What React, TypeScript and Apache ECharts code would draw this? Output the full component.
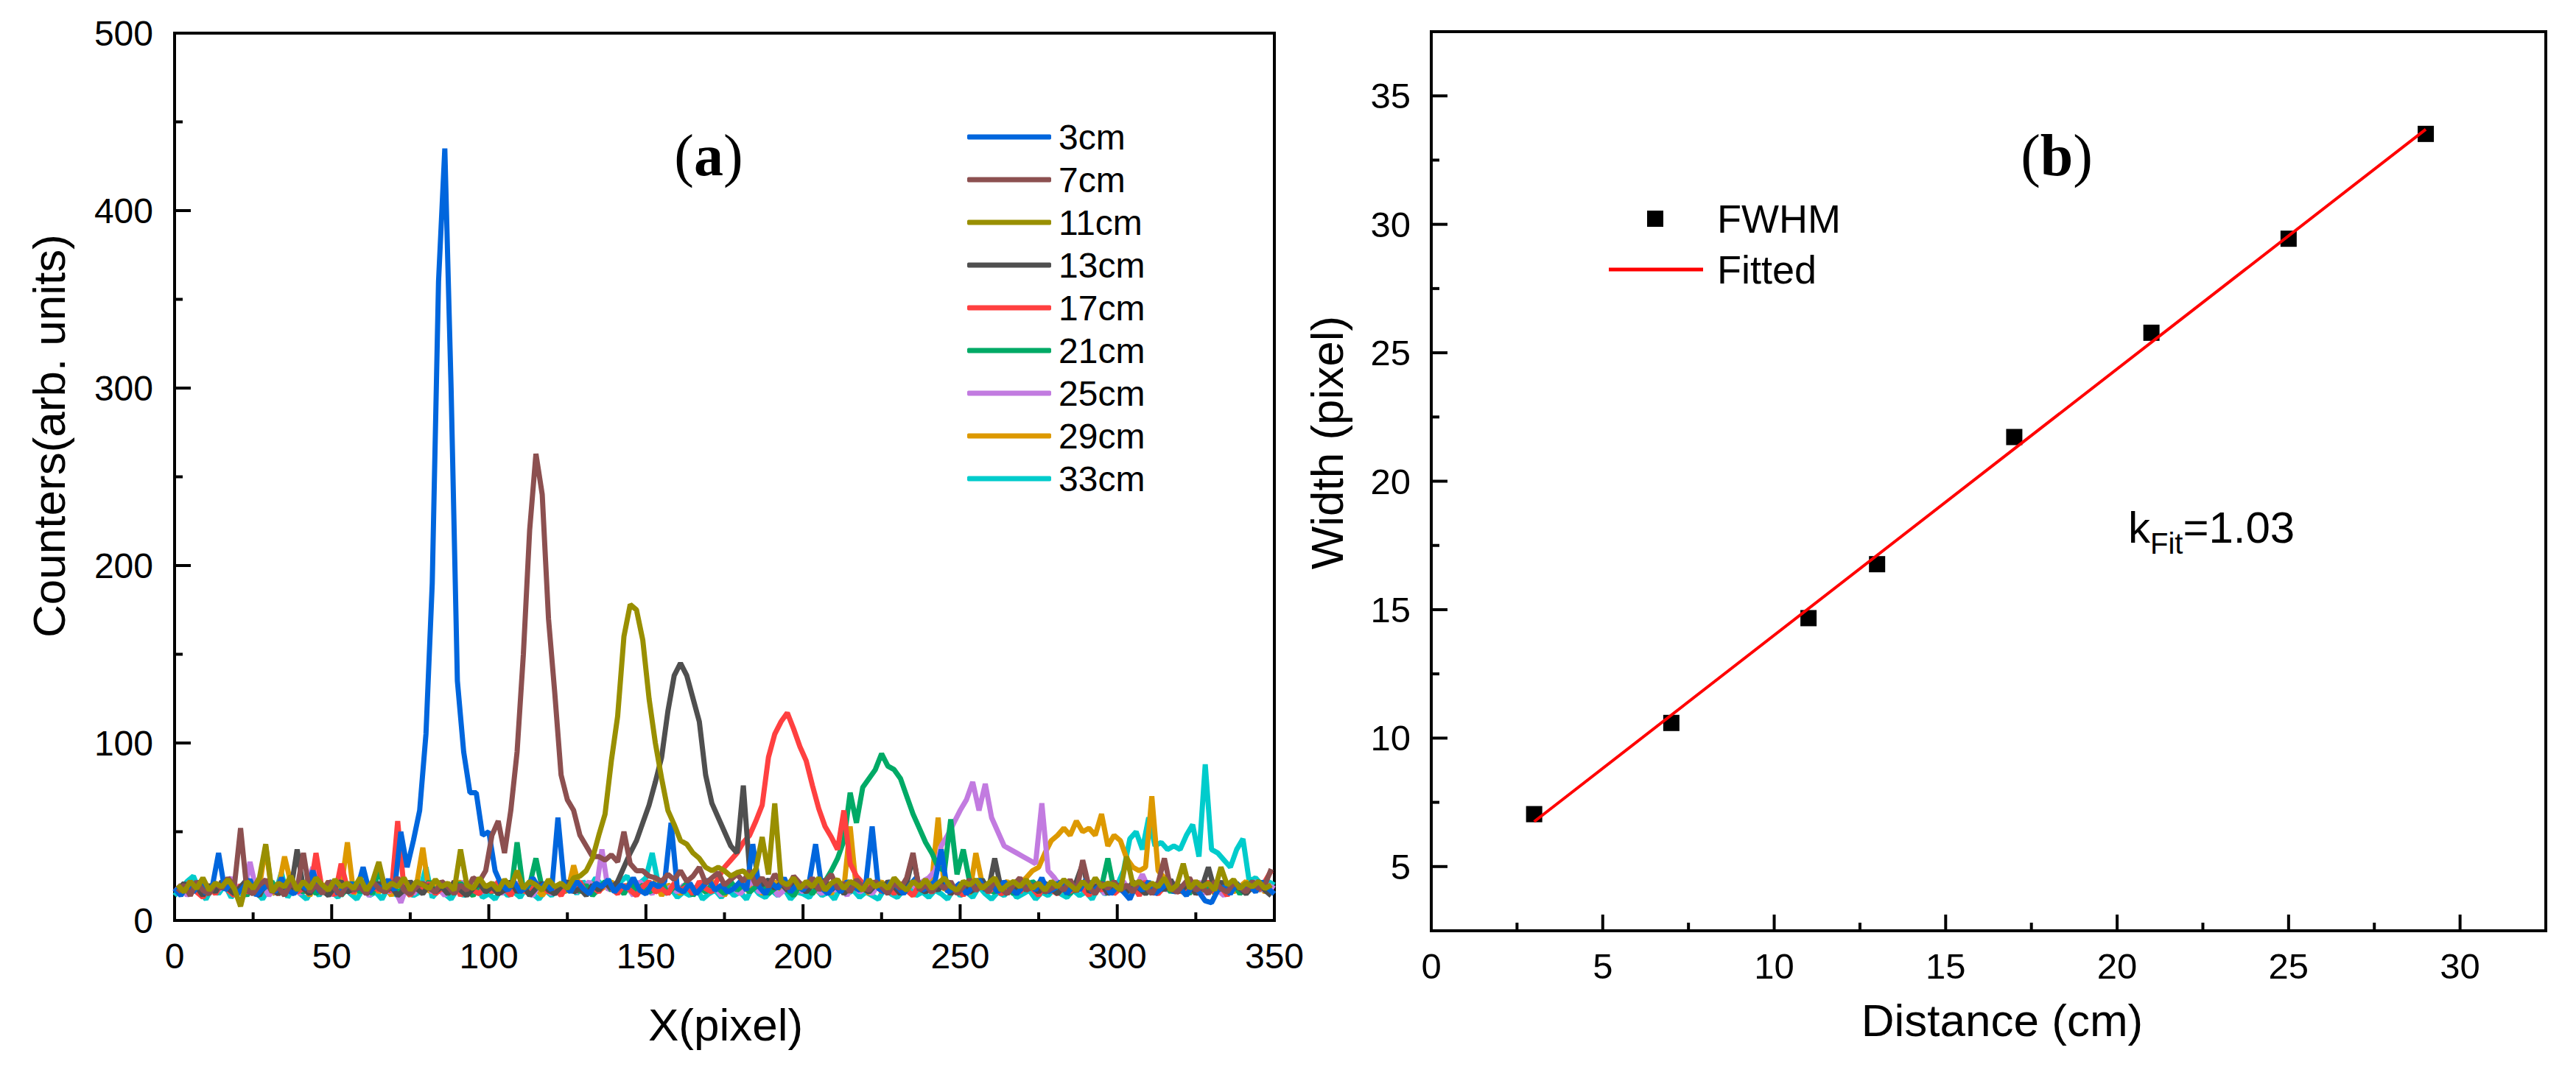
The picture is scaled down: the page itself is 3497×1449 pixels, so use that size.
import { useEffect, useRef } from 'react';
import * as echarts from 'echarts';

// ---------- panel (a): counts along the pixel row, one value every 2 px ----------
const X_STEP = 2;

// x = 0, 2, 4, ..., 350
const counts3cm = [
  18, 14, 20, 16, 22, 15, 19, 38, 17, 21,
  15, 19, 23, 14, 18, 20, 16, 24, 17, 15,
  20, 18, 28, 16, 19, 22, 15, 18, 21, 17,
  30, 16, 20, 18, 23, 17, 50, 30, 45, 62,
  105, 190, 360, 435, 300, 135, 95, 72, 72, 48,
  50, 28, 20, 17, 22, 16, 19, 24, 18, 21,
  17, 58, 20, 16, 22, 18, 15, 21, 19, 23,
  16, 20, 18, 24, 17, 15, 21, 19, 22, 55,
  18, 16, 21, 15, 19, 23, 17, 20, 16, 18,
  22, 17, 43, 19, 15, 21, 18, 24, 16, 20,
  17, 22, 43, 18, 15, 20, 16, 22, 19, 17,
  21, 53, 18, 16, 22, 19, 15, 20, 24, 17,
  19, 22, 40, 16, 18, 21, 15, 19, 23, 17,
  20, 16, 22, 18, 15, 19, 21, 17, 24, 16,
  18, 22, 15, 20, 17, 23, 16, 19, 21, 15,
  19, 16, 12, 20, 17, 22, 15, 18, 21, 16,
  18, 14, 20, 16, 11, 10, 17, 19, 15, 21,
  17, 20, 16, 22, 18, 15,
];

// x = 1, 3, 5, ..., 349
const counts7cm = [
  16, 20, 14, 22, 17, 15, 21, 18, 24, 19,
  52, 17, 15, 20, 23, 16, 19, 14, 21, 18,
  38, 16, 20, 15, 22, 18, 14, 21, 17, 19,
  15, 22, 18, 16, 20, 24, 17, 15, 19, 21,
  18, 16, 22, 19, 15, 20, 17, 24, 22, 28,
  48, 56, 38, 62, 95, 150, 220, 263, 240, 170,
  128, 82, 68, 62, 48, 42, 36, 36, 34, 37,
  33, 50, 32, 28, 28, 25, 24, 22, 26, 23,
  28, 22, 25, 30, 21, 24, 27, 20, 23, 26,
  22, 28, 20, 24, 19, 26, 22, 18, 25, 21,
  19, 24, 17, 22, 26, 18, 21, 16, 23, 19,
  17, 22, 19, 15, 21, 18, 24, 38, 17, 20,
  16, 21, 18, 22, 15, 19, 23, 17, 20, 16,
  22, 18, 15, 20, 24, 17, 19, 21, 16, 18,
  20, 17, 23, 16, 34, 19, 15, 21, 18, 22,
  17, 20, 16, 22, 19, 15, 21, 35, 18, 16,
  20, 24, 17, 19, 15, 22, 18, 16, 21, 19,
  16, 22, 18, 20, 29,
];

// x = 1, 3, 5, ..., 349
const counts11cm = [
  20, 16, 22, 18, 24, 17, 21, 19, 23, 18,
  8, 22, 18, 24, 43, 16, 21, 19, 25, 17,
  22, 18, 24, 20, 17, 23, 19, 21, 18, 24,
  17, 22, 33, 18, 21, 19, 24, 17, 22, 20,
  18, 23, 19, 21, 17, 40, 20, 18, 24, 19,
  21, 17, 23, 19, 28, 18, 22, 20, 17, 23,
  19, 21, 18, 24, 25, 28, 35, 48, 60, 90,
  115, 160, 178, 175, 158, 125, 100, 80, 62, 54,
  45, 43, 38, 35, 30, 28, 30, 28, 25, 27,
  28, 24, 29, 47, 26, 66, 22, 20, 24, 18,
  22, 19, 24, 17, 21, 23, 18, 22, 20, 17,
  23, 19, 21, 18, 24, 20, 17, 22, 19, 23,
  18, 21, 24, 19, 17, 22, 20, 23, 18, 21,
  24, 17, 20, 22, 19, 23, 18, 21, 17, 22,
  19, 23, 20, 17, 22, 18, 24, 19, 21, 20,
  17, 36, 20, 22, 18, 21, 19, 24, 17, 20,
  32, 18, 22, 19, 21, 17, 30, 20, 23, 18,
  21, 19, 22, 18, 20,
];

// x = 1, 3, 5, ..., 349
const counts13cm = [
  17, 21, 15, 19, 14, 20, 16, 22, 18, 15,
  19, 23, 16, 14, 21, 18, 15, 20, 17, 40,
  18, 15, 21, 17, 14, 19, 22, 16, 18, 20,
  15, 18, 21, 16, 19, 14, 17, 22, 18, 15,
  20, 16, 19, 15, 22, 17, 14, 18, 21, 16,
  19, 15, 17, 22, 16, 20, 14, 18, 21, 17,
  15, 19, 22, 16, 18, 14, 20, 17, 21, 18,
  22, 30, 38, 45, 55, 65, 78, 92, 118, 138,
  145, 138, 125, 112, 82, 66, 58, 50, 42, 38,
  76, 28, 24, 20, 23, 18, 21, 17, 22, 19,
  16, 20, 18, 23, 17, 21, 15, 19, 22, 18,
  16, 20, 17, 22, 19, 15, 21, 36, 18, 16,
  20, 17, 22, 15, 19, 21, 16, 18, 23, 17,
  35, 18, 15, 20, 17, 22, 19, 16, 21, 18,
  15, 20, 17, 22, 32, 16, 19, 21, 15, 18,
  20, 16, 22, 18, 15, 19, 21, 17, 23, 16,
  18, 21, 15, 19, 30, 17, 22, 16, 20, 18,
  15, 19, 22, 17, 14,
];

// x = 1, 3, 5, ..., 349
const counts17cm = [
  14, 18, 22, 16, 13, 19, 15, 21, 17, 14,
  20, 16, 18, 14, 22, 17, 15, 19, 23, 16,
  18, 15, 38, 17, 20, 14, 32, 18, 16, 21,
  15, 19, 17, 22, 16, 56, 18, 14, 20, 17,
  21, 15, 18, 16, 22, 14, 19, 17, 15, 20,
  16, 22, 18, 14, 20, 17, 15, 21, 19, 16,
  18, 14, 20, 17, 22, 15, 19, 16, 21, 18,
  15, 20, 17, 14, 19, 22, 16, 18, 15, 21,
  17, 19, 15, 22, 18, 16, 24, 30, 34, 38,
  44, 48, 56, 65, 92, 105, 112, 117, 108, 98,
  90, 76, 63, 53, 47, 40, 62, 32, 25, 21,
  18, 22, 16, 19, 15, 21, 17, 14, 20, 18,
  16, 19, 22, 15, 18, 14, 21, 17, 20, 16,
  19, 15, 17, 22, 16, 20, 18, 14, 21, 17,
  15, 19, 16, 22, 18, 14, 20, 17, 21, 15,
  18, 16, 20, 14, 22, 17, 15, 19, 21, 16,
  17, 20, 15, 18, 22, 16, 19, 14, 21, 18,
  16, 20, 17, 22, 28,
];

// x = 1, 3, 5, ..., 349
const counts21cm = [
  15, 19, 17, 21, 14, 18, 16, 20, 22, 17,
  18, 14, 20, 16, 19, 22, 15, 17, 21, 18,
  16, 20, 15, 19, 17, 22, 14, 18, 21, 16,
  19, 15, 29, 17, 21, 16, 18, 14, 20, 17,
  22, 16, 19, 15, 18, 21, 17, 14, 20, 18,
  16, 19, 21, 15, 44, 17, 20, 35, 18, 22,
  15, 19, 17, 21, 16, 20, 14, 18, 22, 17,
  19, 15, 21, 17, 20, 16, 18, 22, 15, 19,
  17, 21, 14, 19, 16, 20, 18, 15, 22, 17,
  20, 16, 19, 22, 15, 18, 21, 17, 14, 20,
  18, 15, 20, 22, 28, 35, 45, 72, 55, 75,
  80, 85, 94, 87, 85, 80, 70, 60, 52, 44,
  38, 30, 28, 57, 26, 40, 22, 19, 23, 17,
  16, 21, 18, 15, 20, 17, 22, 19, 16, 18,
  21, 17, 15, 20, 18, 22, 16, 19, 35, 17,
  20, 16, 18, 22, 15, 19, 17, 21, 16, 20,
  18, 15, 22, 17, 19, 16, 20, 18, 21, 15,
  19, 22, 17, 20, 18,
];

// x = 0, 2, 4, ..., 350
const counts25cm = [
  16, 20, 14, 18, 22, 15, 19, 17, 21, 24,
  18, 15, 33, 17, 20, 14, 19, 22, 16, 18,
  15, 21, 30, 17, 19, 14, 22, 18, 16, 20,
  17, 14, 19, 22, 16, 18, 10, 20, 15, 19,
  21, 16, 18, 14, 20, 17, 22, 15, 19, 16,
  18, 21, 15, 19, 17, 22, 16, 14, 20, 18,
  15, 19, 17, 21, 16, 18, 22, 15, 40, 17,
  20, 16, 19, 14, 22, 18, 15, 21, 17, 19,
  16, 20, 18, 15, 22, 17, 19, 14, 21, 18,
  15, 19, 22, 16, 18, 20, 14, 17, 21, 19,
  16, 22, 18, 15, 20, 17, 19, 14, 21, 16,
  18, 15, 20, 17, 22, 16, 19, 21, 18, 22,
  24, 28, 42, 48, 55, 62, 68, 78, 62, 77,
  58, 50, 42, 40, 38, 36, 34, 32, 66, 28,
  24, 19, 22, 17, 20, 16, 18, 21, 15, 19,
  17, 22, 16, 19, 26, 18, 15, 20, 17, 21,
  19, 16, 18, 22, 15, 20, 17, 14, 19, 21,
  16, 19, 22, 17, 20, 18,
];

// x = 1, 3, 5, ..., 349
const counts29cm = [
  18, 15, 21, 17, 14, 20, 16, 19, 22, 15,
  17, 20, 16, 19, 42, 15, 18, 36, 21, 16,
  19, 14, 20, 17, 22, 16, 18, 44, 15, 20,
  17, 21, 16, 19, 14, 22, 18, 15, 20, 41,
  16, 19, 21, 15, 18, 22, 17, 14, 20, 16,
  19, 15, 21, 17, 20, 16, 22, 18, 14, 19,
  17, 20, 16, 31, 18, 15, 21, 17, 19, 22,
  16, 18, 21, 15, 19, 17, 22, 14, 20, 18,
  15, 21, 17, 19, 16, 22, 18, 14, 20, 17,
  19, 16, 21, 15, 18, 22, 17, 20, 14, 19,
  17, 21, 16, 19, 15, 22, 18, 53, 17, 20,
  15, 19, 22, 16, 18, 21, 17, 14, 20, 18,
  22, 58, 17, 20, 16, 19, 15, 38, 21, 18,
  16, 20, 22, 18, 21, 24, 28, 30, 38, 45,
  48, 52, 48, 56, 50, 52, 48, 60, 42, 48,
  45, 35, 30, 28, 30, 70, 28, 24, 20, 17,
  16, 19, 22, 17, 20, 15, 18, 21, 16, 19,
  22, 17, 20, 16, 19,
];

// x = 0, 2, 4, ..., 350
const counts33cm = [
  14, 18, 22, 25, 16, 12, 19, 15, 20, 13,
  17, 14, 21, 16, 12, 18, 15, 27, 13, 19,
  15, 12, 18, 14, 20, 16, 13, 19, 15, 12,
  18, 14, 16, 12, 19, 15, 13, 17, 14, 16,
  30, 13, 17, 15, 12, 18, 14, 16, 20, 13,
  15, 12, 18, 14, 16, 13, 19, 15, 12, 17,
  14, 18, 16, 20, 15, 22, 18, 24, 20, 23,
  19, 22, 25, 18, 21, 24, 38, 20, 15, 18,
  13, 16, 14, 19, 12, 15, 17, 13, 18, 14,
  16, 12, 19, 15, 13, 17, 14, 18, 12, 16,
  15, 13, 18, 14, 16, 12, 19, 15, 17, 13,
  16, 14, 12, 18, 15, 13, 17, 19, 14, 16,
  13, 17, 15, 12, 18, 14, 16, 13, 19, 15,
  12, 16, 14, 18, 13, 15, 17, 12, 16, 14,
  18, 15, 13, 17, 14, 16, 12, 19, 15, 17,
  20, 28, 46, 50, 40, 58, 42, 44, 40, 42,
  40, 48, 54, 36, 88, 40, 38, 34, 30, 40,
  46, 22, 24, 20, 22, 20,
];

const profiles = [
  { name: '3cm', color: '#0066dd', x0: 0, values: counts3cm },
  { name: '7cm', color: '#8c5050', x0: 1, values: counts7cm },
  { name: '11cm', color: '#998f00', x0: 1, values: counts11cm },
  { name: '13cm', color: '#4f4f4f', x0: 1, values: counts13cm },
  { name: '17cm', color: '#ff4040', x0: 1, values: counts17cm },
  { name: '21cm', color: '#00aa66', x0: 1, values: counts21cm },
  { name: '25cm', color: '#c27be0', x0: 0, values: counts25cm },
  { name: '29cm', color: '#dd9900', x0: 1, values: counts29cm },
  { name: '33cm', color: '#00cccc', x0: 0, values: counts33cm },
];
// later ones are painted on top
const drawOrder = ['33cm', '29cm', '25cm', '21cm', '17cm', '13cm', '3cm', '7cm', '11cm'];

const xTicksA = [0, 50, 100, 150, 200, 250, 300, 350];
const xMinorA = [25, 75, 125, 175, 225, 275, 325];
const yTicksA = [0, 100, 200, 300, 400, 500];
const yMinorA = [50, 150, 250, 350, 450];

// ---------- panel (b): FWHM vs distance ----------
const distanceCm = [3, 7, 11, 13, 17, 21, 25, 29];
const fwhmPx = [7.04, 10.59, 14.67, 16.77, 21.72, 25.78, 29.44, 33.52];
const fitX = [3, 29];
const fitY = [6.75, 33.7];
const kFitText = '=1.03';
const xTicksB = [0, 5, 10, 15, 20, 25, 30];
const xMinorB = [2.5, 7.5, 12.5, 17.5, 22.5, 27.5];
const yTicksB = [5, 10, 15, 20, 25, 30, 35];
const yMinorB = [7.5, 12.5, 17.5, 22.5, 27.5, 32.5];

const SANS = '"Liberation Sans", Arial, sans-serif';
const SERIF = '"Liberation Serif", "Times New Roman", serif';
const BLACK = '#000';

const axisLine = () => ({ show: true, lineStyle: { color: BLACK, width: 4 } });

// inward tick marks, placed on the axes through the library's scales
function tickMarks(ax: number, points: number[][], size: number[], offset: number[]) {
  return {
    type: 'scatter',
    xAxisIndex: ax,
    yAxisIndex: ax,
    symbol: 'rect',
    symbolSize: size,
    symbolOffset: offset,
    clip: false,
    silent: true,
    z: 3,
    itemStyle: { color: BLACK, opacity: 1 },
    emphasis: { disabled: true },
    data: points,
  };
}

export default function App() {
  const chartRef = useRef<HTMLDivElement>(null);

  useEffect(() => {
    if (!chartRef.current) return;
    const chart = echarts.init(chartRef.current, undefined, { renderer: 'svg' });

    const profileSeries = drawOrder.map((nm) => {
      const p = profiles.find((q) => q.name === nm)!;
      return {
        name: p.name,
        type: 'line',
        xAxisIndex: 0,
        yAxisIndex: 0,
        symbol: 'none',
        showSymbol: false,
        color: p.color,
        lineStyle: { color: p.color, width: 7 },
        data: p.values.map((v, i) => [p.x0 + i * X_STEP, v]),
      };
    });

    const ticks = [
      tickMarks(0, xTicksA.map((v) => [v, 0]), [4, 22], [0, -11]),
      tickMarks(0, xMinorA.map((v) => [v, 0]), [4, 11], [0, -5.5]),
      tickMarks(0, yTicksA.map((v) => [0, v]), [22, 4], [11, 0]),
      tickMarks(0, yMinorA.map((v) => [0, v]), [11, 4], [5.5, 0]),
      tickMarks(1, xTicksB.map((v) => [v, 2.5]), [4, 22], [0, -11]),
      tickMarks(1, xMinorB.map((v) => [v, 2.5]), [4, 11], [0, -5.5]),
      tickMarks(1, yTicksB.map((v) => [0, v]), [22, 4], [11, 0]),
      tickMarks(1, yMinorB.map((v) => [0, v]), [11, 4], [5.5, 0]),
    ];

    const option: any = {
      animation: false,
      grid: [
        { left: 237, top: 45, width: 1493, height: 1205, show: true, borderColor: BLACK, borderWidth: 4 },
        { left: 1943, top: 43, width: 1513, height: 1221, show: true, borderColor: BLACK, borderWidth: 4 },
      ],
      xAxis: [
        {
          type: 'value', gridIndex: 0, min: 0, max: 350, interval: 50,
          axisLine: axisLine(), axisTick: { show: false },
          splitLine: { show: false },
          axisLabel: { fontSize: 48, color: BLACK, fontFamily: SANS, margin: 24 },
        },
        {
          type: 'value', gridIndex: 1, min: 0, max: 32.5, interval: 5,
          axisLine: axisLine(), axisTick: { show: false },
          splitLine: { show: false },
          axisLabel: { fontSize: 49, color: BLACK, fontFamily: SANS, margin: 23, customValues: xTicksB },
        },
      ],
      yAxis: [
        {
          type: 'value', gridIndex: 0, min: 0, max: 500, interval: 100,
          axisLine: axisLine(), axisTick: { show: false },
          splitLine: { show: false },
          axisLabel: { fontSize: 48, color: BLACK, fontFamily: SANS, margin: 29 },
        },
        {
          type: 'value', gridIndex: 1, min: 2.5, max: 37.5,
          axisLine: axisLine(), axisTick: { show: false },
          splitLine: { show: false },
          axisLabel: { fontSize: 49, color: BLACK, fontFamily: SANS, margin: 28, customValues: yTicksB },
        },
      ],
      legend: [
        {
          data: profiles.map((p) => p.name),
          orient: 'vertical',
          left: 1308,
          top: 157,
          icon: 'roundRect',
          itemWidth: 114,
          itemHeight: 7,
          itemGap: 10,
          selectedMode: false,
          textStyle: { fontSize: 48, lineHeight: 48, color: BLACK, fontFamily: SANS, padding: [0, 0, 0, 5] },
        },
        {
          data: ['FWHM'],
          left: 2231,
          top: 265,
          icon: 'rect',
          itemWidth: 22,
          itemHeight: 22,
          selectedMode: false,
          itemStyle: { opacity: 1 },
          textStyle: { fontSize: 54, lineHeight: 54, color: BLACK, fontFamily: SANS, padding: [0, 0, 0, 68] },
        },
        {
          data: ['Fitted'],
          left: 2179,
          top: 334,
          icon: 'rect',
          itemWidth: 128,
          itemHeight: 5,
          selectedMode: false,
          textStyle: { fontSize: 54, lineHeight: 54, color: BLACK, fontFamily: SANS, padding: [0, 0, 0, 14] },
        },
      ],
      series: [
        ...profileSeries,
        {
          name: 'FWHM',
          type: 'scatter',
          xAxisIndex: 1,
          yAxisIndex: 1,
          symbol: 'rect',
          symbolSize: 22,
          itemStyle: { color: BLACK, opacity: 1 },
          data: distanceCm.map((d, i) => [d, fwhmPx[i]]),
        },
        {
          name: 'Fitted',
          type: 'line',
          xAxisIndex: 1,
          yAxisIndex: 1,
          symbol: 'none',
          showSymbol: false,
          color: '#ff0000',
          lineStyle: { color: '#ff0000', width: 4 },
          data: fitX.map((x, i) => [x, fitY[i]]),
        },
        ...ticks,
      ],
      graphic: [
        {
          type: 'text', x: 962, y: 211,
          style: {
            text: '{p|(}{b|a}{p|)}',
            align: 'center', verticalAlign: 'middle', textAlign: 'center', textVerticalAlign: 'middle',
            rich: {
              p: { fontSize: 80, fontFamily: SERIF, fill: BLACK, color: BLACK },
              b: { fontSize: 80, fontFamily: SERIF, fontWeight: 'bold', fill: BLACK, color: BLACK },
            },
          },
        },
        {
          type: 'text', x: 2792, y: 211,
          style: {
            text: '{p|(}{b|b}{p|)}',
            align: 'center', verticalAlign: 'middle', textAlign: 'center', textVerticalAlign: 'middle',
            rich: {
              p: { fontSize: 80, fontFamily: SERIF, fill: BLACK, color: BLACK },
              b: { fontSize: 80, fontFamily: SERIF, fontWeight: 'bold', fill: BLACK, color: BLACK },
            },
          },
        },
        {
          type: 'text', x: 985, y: 1391,
          style: {
            text: 'X(pixel)', fontSize: 62, fontFamily: SANS, fill: BLACK,
            align: 'center', verticalAlign: 'middle', textAlign: 'center', textVerticalAlign: 'middle',
          },
        },
        {
          type: 'text', x: 2718, y: 1385,
          style: {
            text: 'Distance (cm)', fontSize: 62, fontFamily: SANS, fill: BLACK,
            align: 'center', verticalAlign: 'middle', textAlign: 'center', textVerticalAlign: 'middle',
          },
        },
        {
          type: 'text', x: 66, y: 592, rotation: Math.PI / 2,
          style: {
            text: 'Counters(arb. units)', fontSize: 62, fontFamily: SANS, fill: BLACK,
            align: 'center', verticalAlign: 'middle', textAlign: 'center', textVerticalAlign: 'middle',
          },
        },
        {
          type: 'text', x: 1801, y: 601, rotation: Math.PI / 2,
          style: {
            text: 'Width (pixel)', fontSize: 62, fontFamily: SANS, fill: BLACK,
            align: 'center', verticalAlign: 'middle', textAlign: 'center', textVerticalAlign: 'middle',
          },
        },
        {
          type: 'text', x: 2889, y: 686,
          style: {
            text: '{n|k}{s|Fit}{n|' + kFitText + '}',
            align: 'left', verticalAlign: 'top', textAlign: 'left', textVerticalAlign: 'top',
            rich: {
              n: { fontSize: 60, lineHeight: 60, verticalAlign: 'top', fontFamily: SANS, fill: BLACK, color: BLACK },
              s: { fontSize: 40, lineHeight: 72, verticalAlign: 'bottom', fontFamily: SANS, fill: BLACK, color: BLACK },
            },
          },
        },
      ],
    };

    chart.setOption(option);

    return () => {
      chart.dispose();
    };
  }, []);

  return (
    <div
      ref={chartRef}
      style={{ position: 'fixed', left: 0, top: 0, width: '3497px', height: '1449px', background: '#fff' }}
    />
  );
}
